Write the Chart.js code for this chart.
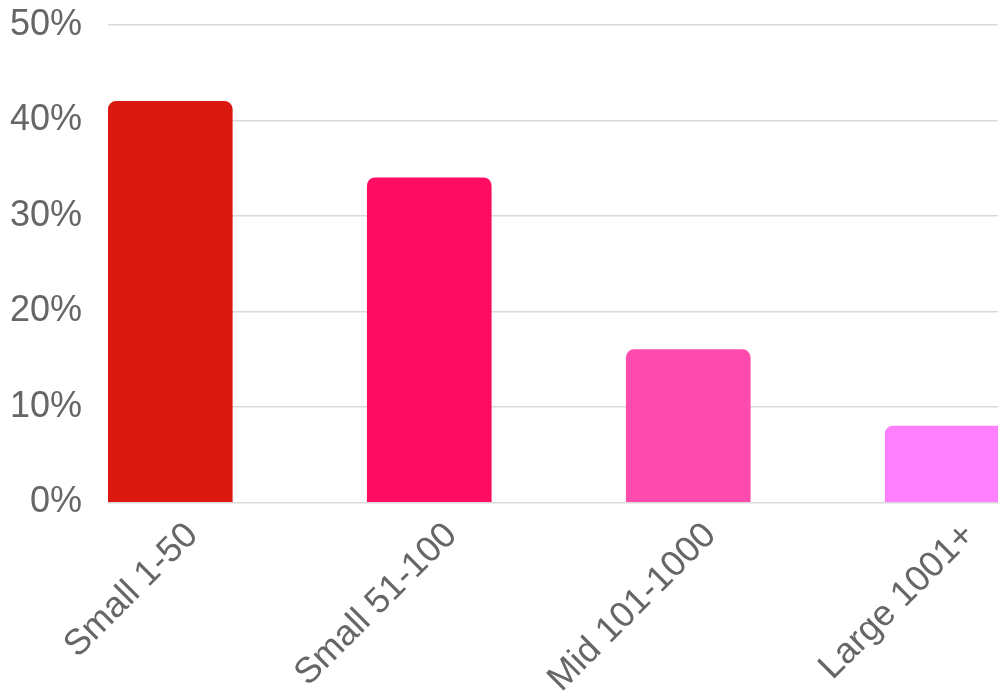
<!DOCTYPE html>
<html>
<head>
<meta charset="utf-8">
<title>Company size</title>
<script src="https://cdn.jsdelivr.net/npm/chart.js@4/dist/chart.umd.min.js"></script>
<style>
  html, body { margin: 0; padding: 0; background: #fff; overflow: hidden; }
</style>
</head>
<body>
<canvas id="barChart" width="998" height="698"></canvas>
<script>
const categories = ["Small 1-50", "Small 51-100", "Mid 101-1000", "Large 1001+"];
const shares = [42, 34, 16, 8];
const barColors = ["#dc1910", "#ff0d62", "#ff4aae", "#ff80ff"];
const yTicks = [0, 10, 20, 30, 40, 50];

// bars sit on a linear axis so the last one can run off the right edge
const points = shares.map((v, i) => ({ x: i, y: v }));
// category labels are nudged a little to the right of each bar centre
const labelShift = 0.085;

new Chart(document.getElementById("barChart").getContext("2d"), {
    type: "bar",
    data: {
        datasets: [{
            data: points,
            backgroundColor: barColors,
            barThickness: 124,
            borderRadius: { topLeft: 8, topRight: 8, bottomLeft: 0, bottomRight: 0 },
            borderSkipped: "bottom"
        }]
    },
    options: {
        responsive: false,
        animation: false,
        layout: { padding: { top: 25, right: 0, bottom: 0, left: 0 } },
        plugins: {
            legend: { display: false },
            tooltip: { enabled: false }
        },
        scales: {
            x: {
                type: "linear",
                offset: false,
                min: -0.2405,
                max: 3.196,
                grid: { display: false },
                border: { display: false },
                afterBuildTicks: (scale) => {
                    scale.ticks = categories.map((c, i) => ({ value: i + labelShift }));
                },
                afterFit: (scale) => {
                    scale.height = 195.5;
                    scale.paddingLeft = 0;
                    scale.paddingRight = 0;
                },
                ticks: {
                    autoSkip: false,
                    minRotation: 45,
                    maxRotation: 45,
                    padding: 4,
                    color: "#666",
                    font: { family: "'Liberation Sans', Arial, sans-serif", size: 36 },
                    callback: (value) => categories[Math.round(value)]
                }
            },
            y: {
                min: yTicks[0],
                max: yTicks[yTicks.length - 1],
                grid: { color: "#d9d9d9", lineWidth: 1.5, drawTicks: false },
                border: { display: false },
                afterFit: (scale) => {
                    scale.width = 108;
                    scale.paddingTop = 0;
                    scale.paddingBottom = 0;
                },
                ticks: {
                    stepSize: 10,
                    padding: 26,
                    color: "#666",
                    font: { family: "'Liberation Sans', Arial, sans-serif", size: 36 },
                    callback: (value) => value + "%"
                }
            }
        }
    }
});
</script>
</body>
</html>
